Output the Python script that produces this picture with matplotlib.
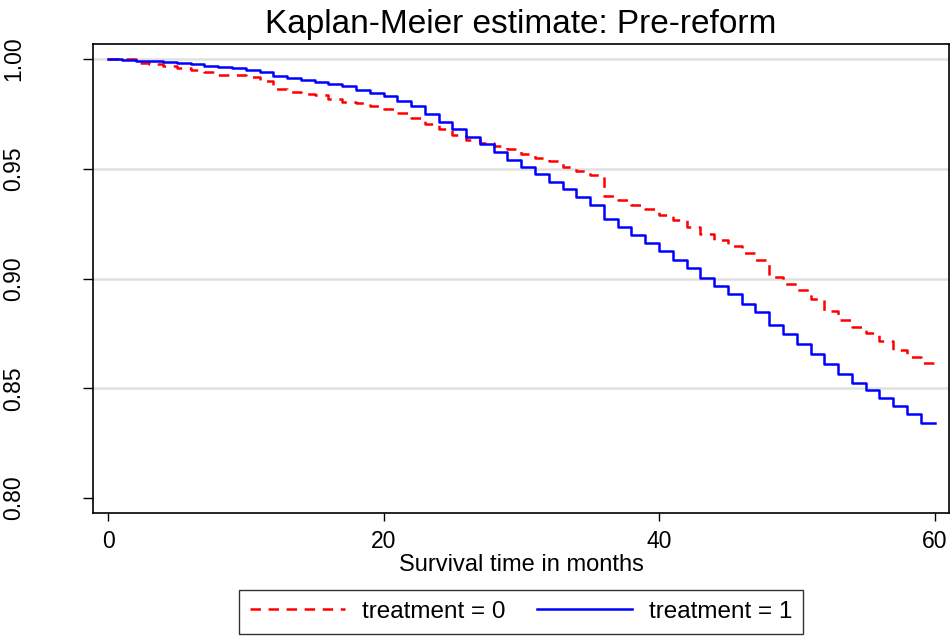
import matplotlib
matplotlib.use("Agg")
import matplotlib.pyplot as plt
from matplotlib.lines import Line2D

plt.rcParams['font.family'] = ['Liberation Sans', 'DejaVu Sans']
plt.rcParams['lines.scale_dashes'] = False

# Data: survival estimate at start of each month interval [m, m+1)
months = list(range(0, 60))
end_month = 60
surv_treat0 = [1.0000, 0.9998, 0.9983, 0.9976, 0.9969, 0.9957, 0.9948, 0.9941, 0.9929, 0.9925,
               0.9916, 0.9899, 0.9861, 0.9849, 0.9842, 0.9838, 0.9816, 0.9806, 0.9799, 0.9784,
               0.9770, 0.9752, 0.9729, 0.9704, 0.9679, 0.9652, 0.9633, 0.9617, 0.9604, 0.9588,
               0.9565, 0.9551, 0.9533, 0.9510, 0.9490, 0.9472, 0.9378, 0.9358, 0.9337, 0.9315,
               0.9291, 0.9265, 0.9236, 0.9203, 0.9176, 0.9148, 0.9117, 0.9082, 0.9005, 0.8973,
               0.8946, 0.8905, 0.8852, 0.8809, 0.8780, 0.8750, 0.8716, 0.8673, 0.8641, 0.8613]
surv_treat1 = [1.0000, 0.9996, 0.9992, 0.9989, 0.9984, 0.9981, 0.9975, 0.9970, 0.9964, 0.9958,
               0.9948, 0.9941, 0.9922, 0.9914, 0.9905, 0.9894, 0.9884, 0.9875, 0.9860, 0.9844,
               0.9832, 0.9808, 0.9785, 0.9747, 0.9711, 0.9679, 0.9644, 0.9611, 0.9574, 0.9538,
               0.9506, 0.9474, 0.9439, 0.9406, 0.9371, 0.9333, 0.9269, 0.9234, 0.9196, 0.9160,
               0.9123, 0.9086, 0.9047, 0.9004, 0.8965, 0.8931, 0.8885, 0.8847, 0.8786, 0.8745,
               0.8703, 0.8654, 0.8609, 0.8566, 0.8525, 0.8490, 0.8457, 0.8418, 0.8381, 0.8343]
series_labels = ["treatment = 0", "treatment = 1"]
xticks = [0, 20, 40, 60]
yticks = [0.80, 0.85, 0.90, 0.95, 1.00]
title = "Kaplan-Meier estimate: Pre-reform"
xlabel = "Survival time in months"

W, H = 953, 636
fig = plt.figure(figsize=(W / 100, H / 100), dpi=100)
ax_l, ax_r, ax_t, ax_b = 93, 949, 44, 513
ax = fig.add_axes([ax_l / W, 1 - ax_b / H, (ax_r - ax_l) / W, (ax_b - ax_t) / H])

t = months + [end_month]
y0 = surv_treat0 + [surv_treat0[-1]]
y1 = surv_treat1 + [surv_treat1[-1]]

LW = 1.8
DASH = (7.5, 5.5)
ax.step(t, y0, where='post', color=(1, 0, 0), lw=LW, dashes=DASH, label=series_labels[0])
ax.step(t, y1, where='post', color=(0, 0, 1), lw=LW, label=series_labels[1])

ax.set_xlim(-1.089, 61.05)
ax.set_ylim(0.7932, 1.0068)
ax.set_xticks(xticks)
ax.set_yticks(yticks)
ax.set_yticklabels([f"{v:.2f}" for v in yticks], rotation=90, va='center')

ax.yaxis.grid(True, color='#e1e1e1', lw=1.8)
ax.set_axisbelow(True)
ax.get_ygridlines()[0].set_visible(False)

ax.tick_params(axis='x', length=6, width=1, labelsize=16.5, pad=6, color='black')
ax.tick_params(axis='y', length=7, width=1, labelsize=16.5, pad=42, color='black')

for s in ax.spines.values():
    s.set_color('black')
    s.set_linewidth(1.2)

ax.set_xlabel(xlabel, fontsize=17, labelpad=1)
ax.set_title(title, fontsize=24, pad=8)

handles = [Line2D([], [], color=(1, 0, 0), lw=LW, dashes=DASH),
           Line2D([], [], color=(0, 0, 1), lw=LW)]
leg = fig.legend(handles, series_labels, loc='upper center', ncol=2,
                 bbox_to_anchor=(521 / W, 1 - 590 / H), fontsize=17.5,
                 frameon=True, fancybox=False, handlelength=3.9, handletextpad=0.7,
                 columnspacing=1.3, borderpad=0.45, borderaxespad=0)
leg.get_frame().set_edgecolor('black')
leg.get_frame().set_linewidth(1.0)

fig.savefig("out.png", dpi=100)
